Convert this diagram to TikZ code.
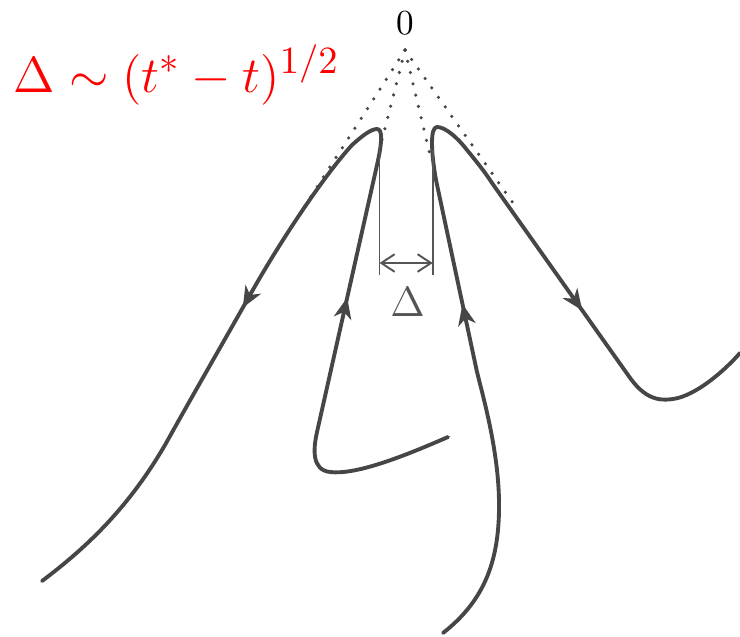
\documentclass[tikz,border=0pt]{standalone}
\usetikzlibrary{arrows.meta, decorations.markings}
\definecolor{curvegray}{RGB}{70,70,70}
\definecolor{dimgray}{RGB}{85,85,85}

\begin{document}
\begin{tikzpicture}[
    x=0.01cm, y=-0.01cm,
    curve/.style={color=curvegray, line width=1.1pt, line cap=round, line join=round},
    guide/.style={color=curvegray, line width=1pt, line cap=round, dash pattern=on 0pt off 3.3pt},
    dimline/.style={color=dimgray, line width=0.55pt},
    gaparrow/.style={dimline, {Straight Barb[length=3.8pt,width=5pt]}-{Straight Barb[length=3.8pt,width=5pt]}},
    flow/.style 2 args={postaction={decorate}, decoration={markings,
        mark=at position #1 with {\arrow{Stealth[length=6pt,width=5pt,inset=1.8pt]}},
        mark=at position #2 with {\arrow{Stealth[length=6pt,width=5pt,inset=1.8pt]}}}},
    lawtext/.style={text=red, font=\fontsize{15}{15}\selectfont, inner sep=0pt},
    smalllabel/.style={inner sep=0pt},
]
\useasboundingbox (0,0) rectangle (740,636);

\node[lawtext, anchor=base west] (law) at (13,92) {$\Delta \sim (t^{*} - t)^{1/2}$};
\node[smalllabel, font=\fontsize{10}{10}\selectfont] (zero) at (405,23) {$0$};

\coordinate (apex) at (405,50);
\coordinate (gl) at (285,237);
\coordinate (il) at (382,140);
\coordinate (ir) at (430,155);
\coordinate (gr) at (513,203);
\foreach \e in {gl, il, ir, gr}{
    \draw[guide] (apex) -- (\e);
}

\draw[curve, flow={3.1cm}{7.1cm}] (448,437) .. controls (400,458) and (355,475) .. (330,472)
    .. controls (312,470) and (313,450) .. (317,432) -- (377,165)
    .. controls (382,143) and (383,129) .. (377,129)
    .. controls (371,129) and (362,136) .. (352,145)
    .. controls (322,178) and (278,245) .. (250,295)
    .. controls (220,348) and (190,400) .. (165,445)
    .. controls (130,505) and (90,545) .. (42,581);

\draw[curve, flow={3.5cm}{7.68cm}] (443,633) .. controls (485,600) and (500,560) .. (499,500)
    .. controls (498,450) and (484,400) .. (477,372) -- (436,180)
    .. controls (431,152) and (430,127) .. (437,127)
    .. controls (445,127) and (457,137) .. (467,150)
    .. controls (476,161) and (485,172) .. (492,183) -- (628,375)
    .. controls (645,400) and (660,402) .. (678,398)
    .. controls (700,392) and (725,370) .. (740,353);

\coordinate (lt) at (379.5,145);
\coordinate (lb) at (379.5,275);
\coordinate (rt) at (432.7,150);
\coordinate (rb) at (432.7,275);
\coordinate (lm) at (379.5,263);
\coordinate (rm) at (432.7,263);
\draw[dimline] (lt) -- (lb);
\draw[dimline] (rt) -- (rb);
\draw[gaparrow] (lm) -- (rm);
\node[smalllabel, text=dimgray, font=\fontsize{12}{12}\selectfont] (gap) at (407.5,302) {$\Delta$};

\end{tikzpicture}
\end{document}
